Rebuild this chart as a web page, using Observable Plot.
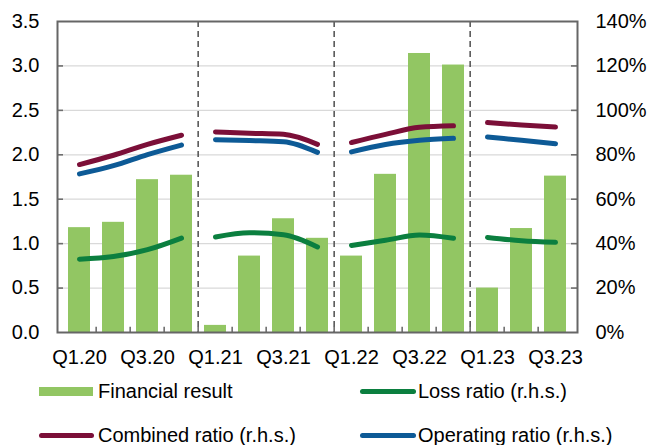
<!DOCTYPE html>
<html><head><meta charset="utf-8">
<script src="https://cdn.jsdelivr.net/npm/d3@7"></script>
<script src="https://cdn.jsdelivr.net/npm/@observablehq/plot@0.6"></script>
<style>
body{margin:0;background:#fff;font-family:"Liberation Sans",Arial,sans-serif;}
#wrap{position:relative;width:649px;height:445px;overflow:hidden;}
.leg{position:absolute;height:22px;font-size:20px;color:#000;display:flex;align-items:center;white-space:nowrap;}
.sw{display:inline-block;}
</style></head><body><div id="wrap"></div>
<script>
const quarters = ["Q1.20","Q2.20","Q3.20","Q4.20","Q1.21","Q2.21","Q3.21","Q4.21","Q1.22","Q2.22","Q3.22","Q4.22","Q1.23","Q2.23","Q3.23"];
const financialResult = [1.18,1.24,1.72,1.77,0.08,0.86,1.28,1.06,0.86,1.78,3.14,3.01,0.50,1.17,1.76];
const lossRatio = [33.0,34.2,37.3,42.5,43.0,44.9,44.0,38.5,39.2,41.5,43.9,42.4,42.8,41.3,40.6];
const combinedRatio = [75.6,79.8,84.7,88.8,90.3,89.7,89.2,84.7,85.5,89.2,92.4,93.1,94.5,93.4,92.5];
const operatingRatio = [71.4,75.1,80.1,84.4,86.8,86.4,85.9,81.1,81.3,84.6,86.5,87.4,88.0,86.5,85.0];
const xTickLabels = ["Q1.20","Q3.20","Q1.21","Q3.21","Q1.22","Q3.22","Q1.23","Q3.23"];
const yTicksLeft = [0,0.5,1,1.5,2,2.5,3,3.5];
const yearStarts = ["Q1.21","Q1.22","Q1.23"];
const seriesNames = ["Financial result","Loss ratio (r.h.s.)","Combined ratio (r.h.s.)","Operating ratio (r.h.s.)"];
const seriesColors = ["#92C663","#0B7F3F","#7B0F38","#0D5A96"];
const rightMax = 140, leftMax = 3.5; // 140% on right axis aligns with 3.5 on left

const toLeft = p => p * leftMax / rightMax;
const barData = quarters.map((q,i)=>({q, v: financialResult[i]}));
const lineSeries = [[seriesNames[1],lossRatio],[seriesNames[2],combinedRatio],[seriesNames[3],operatingRatio]];
const lineData = [];
for (const [name, vals] of lineSeries) {
  quarters.forEach((q,i)=>lineData.push({q, series:name, key:name+"|"+q.slice(3), v: toLeft(vals[i])}));
}

const W=649, H=372, mL=57, mR=72, mT=21, mB=40;
const step = (W-mL-mR)/quarters.length;
const font = '"Liberation Sans", Arial, sans-serif';

const chart = Plot.plot({
  width: W, height: H, marginLeft: mL, marginRight: mR, marginTop: mT, marginBottom: mB,
  style: {fontFamily: font, fontSize: "20px", color: "#000", background: "white", overflow: "visible"},
  x: {type: "band", domain: quarters, paddingInner: 0.35, paddingOuter: 0.175},
  y: {domain: [0, leftMax]},
  color: {domain: seriesNames, range: seriesColors},
  marks: [
    Plot.ruleY(yTicksLeft.slice(1,-1), {stroke: "#d9d9d9", strokeWidth: 1.2}),
    Plot.barY(barData, {x: "q", y: "v", fill: seriesColors[0]}),
    Plot.ruleX(yearStarts, {x: d=>d, dx: -step/2, stroke: "#595959", strokeWidth: 1.6, strokeDasharray: "6,4"}),
    Plot.ruleX(quarters.slice(1), {x: d=>d, dx: -step/2, y1: 0, y2: 0.06, stroke: "#6e6e6e", strokeWidth: 1.6}),
    Plot.ruleY(yTicksLeft.slice(1,-1), {stroke: "#6e6e6e", strokeWidth: 1.6, insetRight: W-mL-mR-6}),
    Plot.ruleY(yTicksLeft.slice(1,-1), {stroke: "#6e6e6e", strokeWidth: 1.6, insetLeft: W-mL-mR-6}),
    Plot.line(lineData, {x: "q", y: "v", z: "key", stroke: "series", strokeWidth: 5, curve: "monotone-x", strokeLinecap: "round"}),
    Plot.frame({stroke: "#666666", strokeWidth: 2}),
    Plot.axisY({ticks: yTicksLeft, tickFormat: d=>d.toFixed(1), tickSize: 0, tickPadding: 18, anchor: "left", label: null}),
    Plot.axisY({ticks: yTicksLeft, tickFormat: d=>Math.round(d*rightMax/leftMax)+"%", tickSize: 0, tickPadding: 18, anchor: "right", label: null}),
    Plot.axisX({ticks: xTickLabels, tickSize: 0, tickPadding: 17, label: null})
  ]
});
const wrap = document.getElementById("wrap");
wrap.appendChild(chart);

const legendItems = [
  {name: seriesNames[0], color: seriesColors[0], bar: true, left: 39, top: 380, sw: 54, tx: 5},
  {name: seriesNames[1], color: seriesColors[1], bar: false, left: 360, top: 380, sw: 56, tx: 2},
  {name: seriesNames[2], color: seriesColors[2], bar: false, left: 39, top: 424, sw: 55, tx: 4},
  {name: seriesNames[3], color: seriesColors[3], bar: false, left: 360, top: 424, sw: 56, tx: 2}
];
for (const it of legendItems) {
  const d = document.createElement("div");
  d.className = "leg";
  d.style.left = it.left + "px";
  d.style.top = it.top + "px";
  const s = document.createElement("span");
  s.className = "sw";
  s.style.width = it.sw + "px";
  s.style.height = it.bar ? "9px" : "5px";
  s.style.background = it.color;
  s.style.borderRadius = it.bar ? "0" : "3px";
  s.style.marginRight = it.tx + "px";
  d.appendChild(s);
  d.appendChild(document.createTextNode(it.name));
  wrap.appendChild(d);
}
</script></body></html>
